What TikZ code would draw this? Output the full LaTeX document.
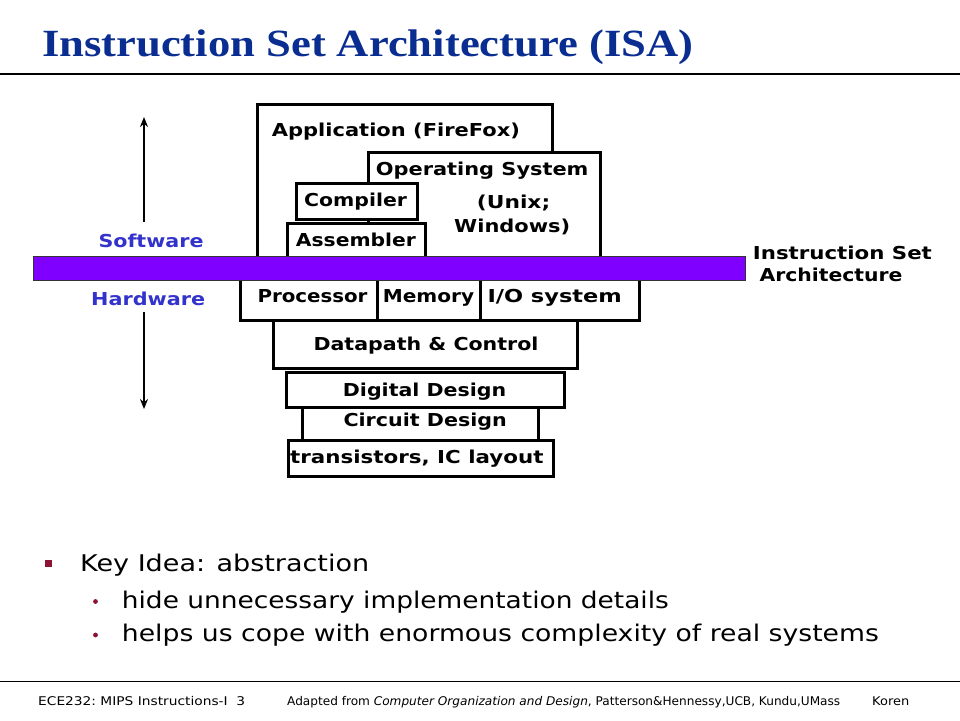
\documentclass[tikz,border=0pt]{standalone}
\usepackage{fontspec}
\setmainfont{DejaVu Sans}
\newfontfamily\titlefont{Liberation Serif}
\usetikzlibrary{arrows.meta}
\definecolor{titleblue}{RGB}{10,45,145}
\definecolor{swblue}{RGB}{51,51,204}
\definecolor{isapurple}{RGB}{128,0,255}
\definecolor{bulletred}{RGB}{140,20,50}
\tikzset{
  layer/.style={draw=black, line width=3pt, fill=white},
  lbl/.style={inner sep=0pt, anchor=base west, font=\fontsize{17.8}{20}\selectfont\bfseries},
  sidelbl/.style={lbl, text=swblue},
  bodytxt/.style={inner sep=0pt, anchor=base west, font=\fontsize{23}{28}\selectfont},
  foot/.style={inner sep=0pt, anchor=base west, font=\fontsize{12}{14}\selectfont},
  varrow/.style={line width=2.6pt, -{Stealth[length=10pt,width=8pt]}}
}
\newcommand{\fitw}[2]{\resizebox{#1}{\height}{#2}}
\begin{document}
\begin{tikzpicture}[x=1pt,y=-1pt]
\useasboundingbox (0,0) rectangle (960,720);
\fill[white] (0,0) rectangle (960,720);
% title
\node[inner sep=0pt, anchor=base west, text=titleblue, font=\titlefont\bfseries\fontsize{38.5}{40}\selectfont] (title) at (42,56.7) {\fitw{651pt}{Instruction Set Architecture (ISA)}};
\draw[line width=1.3pt] (0,74) -- (960,74);
% software layers
\draw[layer] (257,104) rectangle (552,262);
\draw[layer] (368,152) rectangle (600,262);
\draw[layer] (296,183) rectangle (417,219);
\draw[layer] (287,223) rectangle (425,262);
\node[lbl] (app) at (271.7,136.7) {\fitw{248pt}{Application (FireFox)}};
\node[lbl] (os) at (375.7,175) {\fitw{212.6pt}{Operating System}};
\node[lbl] (comp) at (304,206) {\fitw{102.7pt}{Compiler}};
\node[lbl] (unix) at (476.7,208.3) {\fitw{73.3pt}{(Unix;}};
\node[lbl] (win) at (454,232.7) {\fitw{116pt}{Windows)}};
\node[lbl] (asm) at (295.7,246.7) {\fitw{120pt}{Assembler}};
% hardware layers
\draw[layer] (240,274) rectangle (377,320);
\draw[layer] (377,274) rectangle (480,320);
\draw[layer] (480,274) rectangle (639,320);
\draw[layer] (273,320) rectangle (577,368);
\draw[layer] (286,372) rectangle (564,407);
\draw[layer] (302,407) rectangle (538,440);
\draw[layer] (288,440) rectangle (553,476);
\node[lbl] (proc) at (257.3,302.7) {\fitw{110pt}{Processor}};
\node[lbl] (mem) at (382.7,302.7) {\fitw{91.3pt}{Memory}};
\node[lbl] (io) at (487.3,302.7) {\fitw{134.3pt}{I/O system}};
\node[lbl] (dp) at (313.3,350) {\fitw{225pt}{Datapath \& Control}};
\node[lbl] (dd) at (342.7,396.7) {\fitw{163.3pt}{Digital Design}};
\node[lbl] (cd) at (343.3,426.7) {\fitw{163.3pt}{Circuit Design}};
\node[lbl] (tr) at (290,463.3) {\fitw{253.3pt}{transistors, IC layout}};
% ISA bar
\draw[fill=isapurple, draw=black!80, line width=0.8pt] (33,256) rectangle (745,280);
\node[lbl] (isa1) at (752.7,259.3) {\fitw{179pt}{Instruction Set}};
\node[lbl] (isa2) at (759.3,281) {\fitw{143pt}{Architecture}};
% software / hardware
\node[sidelbl] (sw) at (98.3,247.7) {\fitw{105pt}{Software}};
\node[sidelbl] (hw) at (91,305.7) {\fitw{114pt}{Hardware}};
\coordinate (upS) at (144,222);
\coordinate (upE) at (144,117);
\coordinate (dnS) at (144,312);
\coordinate (dnE) at (144,409);
\draw[varrow] (upS) -- (upE);
\draw[varrow] (dnS) -- (dnE);
% bullets
\fill[bulletred] (45,560) rectangle (52,567);
\node[bodytxt] (b1) at (80,571.7) {\fitw{289pt}{Key Idea: abstraction}};
\fill[bulletred] (95.5,601.5) circle (2.4);
\node[bodytxt] (b2) at (121.7,608.3) {\fitw{547pt}{hide unnecessary implementation details}};
\fill[bulletred] (95.5,635) circle (2.4);
\node[bodytxt] (b3) at (121.7,641.7) {\fitw{757pt}{helps us cope with enormous complexity of real systems}};
% footer
\draw[line width=1pt] (0,681) -- (960,681);
\node[foot] (f1) at (38,705.5) {\fitw{207pt}{ECE232:\ MIPS Instructions-I\ \ 3}};
\node[foot] (f2) at (287,705.5) {\fitw{553pt}{Adapted from \textit{Computer Organization and Design},\ Patterson\&Hennessy,UCB, Kundu,UMass}};
\node[foot] (f3) at (872,705.5) {\fitw{37pt}{Koren}};
\end{tikzpicture}
\end{document}
